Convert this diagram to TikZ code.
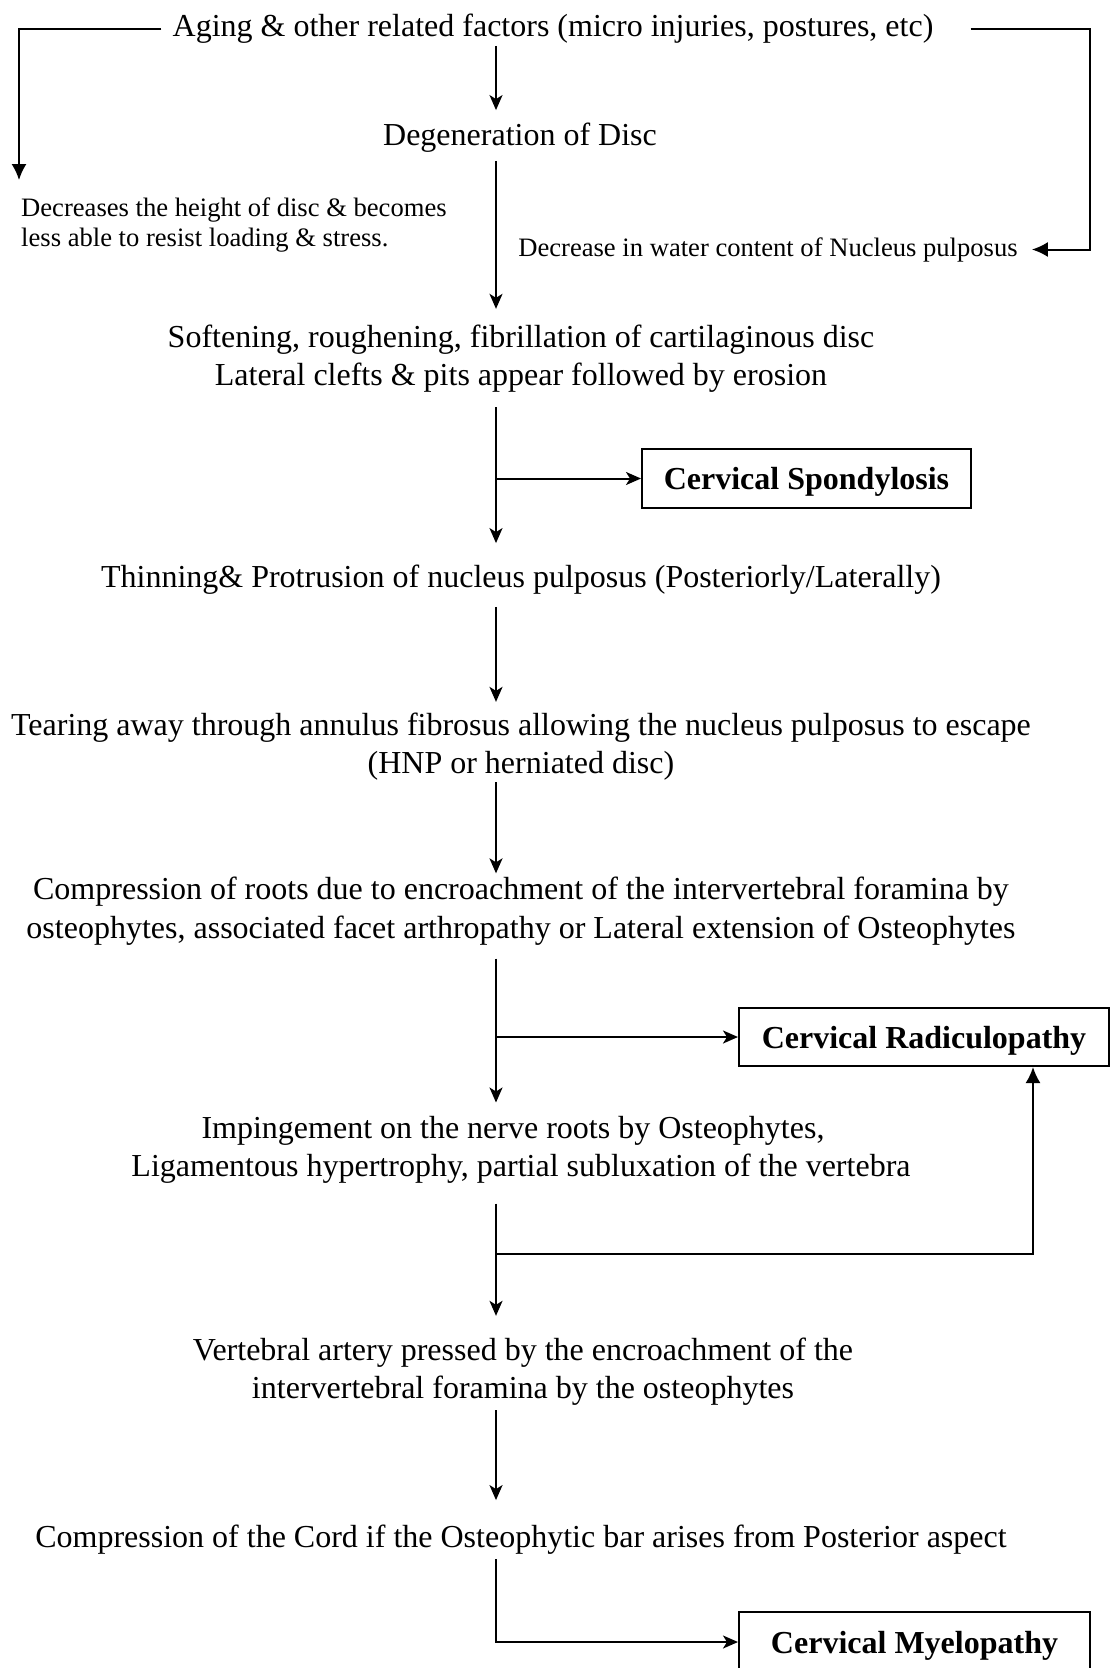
\documentclass[tikz,border=0pt]{standalone}
\usepackage{fontspec}
\setmainfont{Liberation Serif}
\usetikzlibrary{arrows.meta}
\begin{document}
\begin{tikzpicture}[x=1pt,y=-1pt,
  txt/.style={inner sep=0pt, font=\fontsize{32}{38.5}\selectfont, align=center},
  small/.style={inner sep=0pt, font=\fontsize{26.6}{30}\selectfont, align=left},
  outcome/.style={draw, line width=2pt, inner sep=0pt, text height=29pt, text depth=7pt, font=\fontsize{32}{38}\selectfont\bfseries},
  flow/.style={line width=2pt, -{Stealth[length=15pt,width=13pt,inset=4pt]}},
  tri/.style={line width=2pt, -{Latex[length=16pt,width=15pt]}}
]
\useasboundingbox (0,0) rectangle (1110,1668);
\clip (0,0) rectangle (1110,1668);

\coordinate (spine) at (496,0);
\coordinate (tl) at (19,0);
\coordinate (tr) at (1090,0);
\coordinate (rb) at (1033,1254);

\node[txt] (aging) at (553,28.5) {Aging \& other related factors (micro injuries, postures, etc)};
\node[txt] (degen) at (520,137.5) {Degeneration of Disc};
\node[small, anchor=west] (height) at (21,225.5) {Decreases the height of disc \& becomes\\less able to resist loading \& stress.};
\node[small] (water) at (768,249.5) {Decrease in water content of Nucleus pulposus};
\node[txt] (soft) at (521,358.5) {Softening, roughening, fibrillation of cartilaginous disc\\Lateral clefts \& pits appear followed by erosion};
\node[outcome, minimum width=329pt, minimum height=59pt] (spond) at (806.5,478.5) {Cervical Spondylosis};
\node[txt] (thin) at (521,579.5) {Thinning\& Protrusion of nucleus pulposus (Posteriorly/Laterally)};
\node[txt] (tear) at (521,746.5) {Tearing away through annulus fibrosus allowing the nucleus pulposus to escape\\(HNP or herniated disc)};
\node[txt] (roots) at (521,911) {Compression of roots due to encroachment of the intervertebral foramina by\\osteophytes, associated facet arthropathy or Lateral extension of Osteophytes};
\node[outcome, minimum width=370pt, minimum height=58pt] (radic) at (924,1037) {Cervical Radiculopathy};
\node[txt] (imping) at (521,1150) {Impingement on the nerve roots by Osteophytes,\hspace*{16pt}\\Ligamentous hypertrophy, partial subluxation of the vertebra};
\node[txt] (vert) at (523,1371.5) {Vertebral artery pressed by the encroachment of the\\intervertebral foramina by the osteophytes};
\node[txt] (cord) at (521,1539.5) {Compression of the Cord if the Osteophytic bar arises from Posterior aspect};
\node[outcome, anchor=north, minimum width=351pt, minimum height=60pt] (myelo) at (914.5,1611) {Cervical Myelopathy};

% main spine
\draw[flow, shorten <=2.5pt, shorten >=12.5pt] (aging.south -| spine) -- (degen.north -| spine);
\draw[flow, shorten <=8.5pt, shorten >=15.5pt] (degen.south -| spine) -- (soft.north -| spine);
\draw[flow, shorten <=14.5pt, shorten >=21.5pt] (soft.south -| spine) -- (thin.north -| spine);
\draw[flow, shorten <=12.5pt, shorten >=10.5pt] (thin.south -| spine) -- (tear.north -| spine);
\draw[flow, shorten <=1.5pt, shorten >=3.5pt] (tear.south -| spine) -- (roots.north -| spine);
\draw[flow, shorten <=13.5pt, shorten >=13.5pt] (roots.south -| spine) -- (imping.north -| spine);
\draw[flow, shorten <=19.5pt, shorten >=21.5pt] (imping.south -| spine) -- (vert.north -| spine);
\draw[flow, shorten <=4.5pt, shorten >=24.5pt] (vert.south -| spine) -- (cord.north -| spine);
\draw[flow, shorten <=5pt] (cord.south -| spine) |- (myelo.west);

% branches
\draw[flow] (spine |- spond.west) -- (spond.west);
\draw[flow] (spine |- radic.west) -- (radic.west);
\draw[tri] (spine |- rb) -- (rb) -- (radic.south -| rb);

% top loops
\draw[tri, shorten <=11pt, shorten >=18pt] (aging.west) -- (aging.west -| tl) -- (height.north -| tl);
\draw[tri, shorten <=37pt, shorten >=14pt] (aging.east) -- (aging.east -| tr) -- (water.east -| tr) -- (water.east);
\end{tikzpicture}
\end{document}
